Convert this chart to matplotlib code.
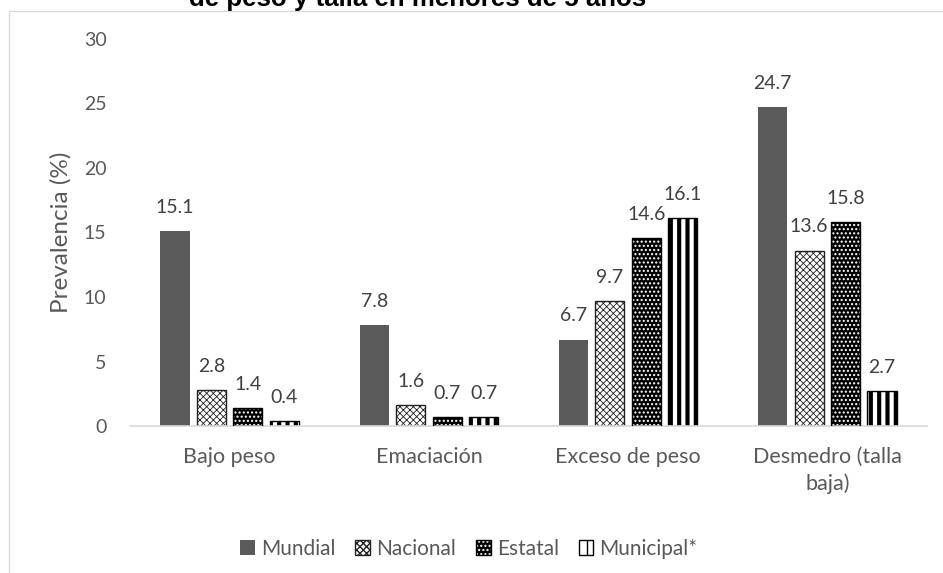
import matplotlib
matplotlib.use("Agg")
import matplotlib.pyplot as plt
import matplotlib.patches as mpatches
import numpy as np

categorias = ["Bajo peso", "Emaciación", "Exceso de peso", "Desmedro (talla\nbaja)"]
series = ["Mundial", "Nacional", "Estatal", "Municipal*"]
mundial = [15.1, 7.8, 6.7, 24.7]
nacional = [2.8, 1.6, 9.7, 13.6]
estatal = [1.4, 0.7, 14.6, 15.8]
municipal = [0.4, 0.7, 16.1, 2.7]
yticks = [0, 5, 10, 15, 20, 25, 30]

plt.rcParams['font.family'] = ['Lato', 'DejaVu Sans']

gris = '#595959'
estilos = [
    dict(color='#5a5a5a', edgecolor='#5a5a5a', hatch=None, lw=0.0, hlw=1.0),
    dict(color='white', edgecolor='#222222', hatch='xxxxx', lw=1.0, hlw=0.6),
    dict(color='black', edgecolor='white', hatch='....', lw=0.0, hlw=1.0),
    dict(color='white', edgecolor='black', hatch='||', lw=1.0, hlw=3.0),
]

fig = plt.figure(figsize=(9.43, 5.73), dpi=100)
ax = fig.add_axes([0.1379, 0.2565, 0.9830 - 0.1379, 0.932 - 0.2565])

x = np.arange(len(categorias))
paso = 0.183
ancho = 0.146
handles = []
for i, (nombre, vals) in enumerate(zip(series, [mundial, nacional, estatal, municipal])):
    st = estilos[i]
    pos = x + (i - 1.5) * paso
    barras = ax.bar(pos, vals, ancho, color=st['color'], edgecolor=st['edgecolor'],
                    hatch=st['hatch'], linewidth=st['lw'], label=nombre, zorder=2)
    for b in barras:
        if hasattr(b, 'set_hatch_linewidth'):
            b.set_hatch_linewidth(st['hlw'])
    if i == 2:
        contorno = ax.bar(pos, vals, ancho, fill=False, edgecolor='black', linewidth=1.0, zorder=3)
        handles.append((barras[0], contorno[0]))
    else:
        handles.append(barras[0])
    for xi, v in zip(pos, vals):
        ax.annotate(f"{v:.1f}", (xi, v), xytext=(0, 17), textcoords='offset points',
                    ha='center', va='center', fontsize=14, color='#404040')

ax.set_xlim(-0.5, 3.5)
ax.set_ylim(0, 30)
ax.set_yticks(yticks)
ax.set_xticks(x)
ax.set_xticklabels(categorias, fontsize=15.5, color=gris, linespacing=1.4)
ax.tick_params(axis='y', length=0, pad=17, labelsize=14, labelcolor=gris)
ax.tick_params(axis='x', length=0, pad=15)
for s in ['top', 'right', 'left']:
    ax.spines[s].set_visible(False)
ax.spines['bottom'].set_color('#d9d9d9')
ax.spines['bottom'].set_linewidth(1.2)
ax.set_ylabel("Prevalencia (%)", fontsize=17.5, color=gris, labelpad=9)

leg = fig.legend(handles, series, loc='center', bbox_to_anchor=(469 / 943, 1 - 549 / 573),
                 ncol=4, frameon=False, fontsize=15, handlelength=0.7, handleheight=0.7,
                 handletextpad=0.3, columnspacing=0.95)
for t in leg.get_texts():
    t.set_color(gris)

# titulo (recortado en la imagen original)
fig.text(418 / 943, 1 - 6 / 573, "de peso y talla en menores de 5 años",
         ha='center', va='baseline', fontsize=18.6, fontweight='bold',
         family=['Liberation Sans', 'DejaVu Sans'], color='black')

# borde del area del grafico
borde = mpatches.Rectangle((9 / 943, -0.1), 1.2, 1 - 10.5 / 573 + 0.1, transform=fig.transFigure,
                           fill=False, edgecolor='#d9d9d9', linewidth=1.0, clip_on=False)
fig.patches.append(borde)

fig.savefig("out.png", dpi=100)
